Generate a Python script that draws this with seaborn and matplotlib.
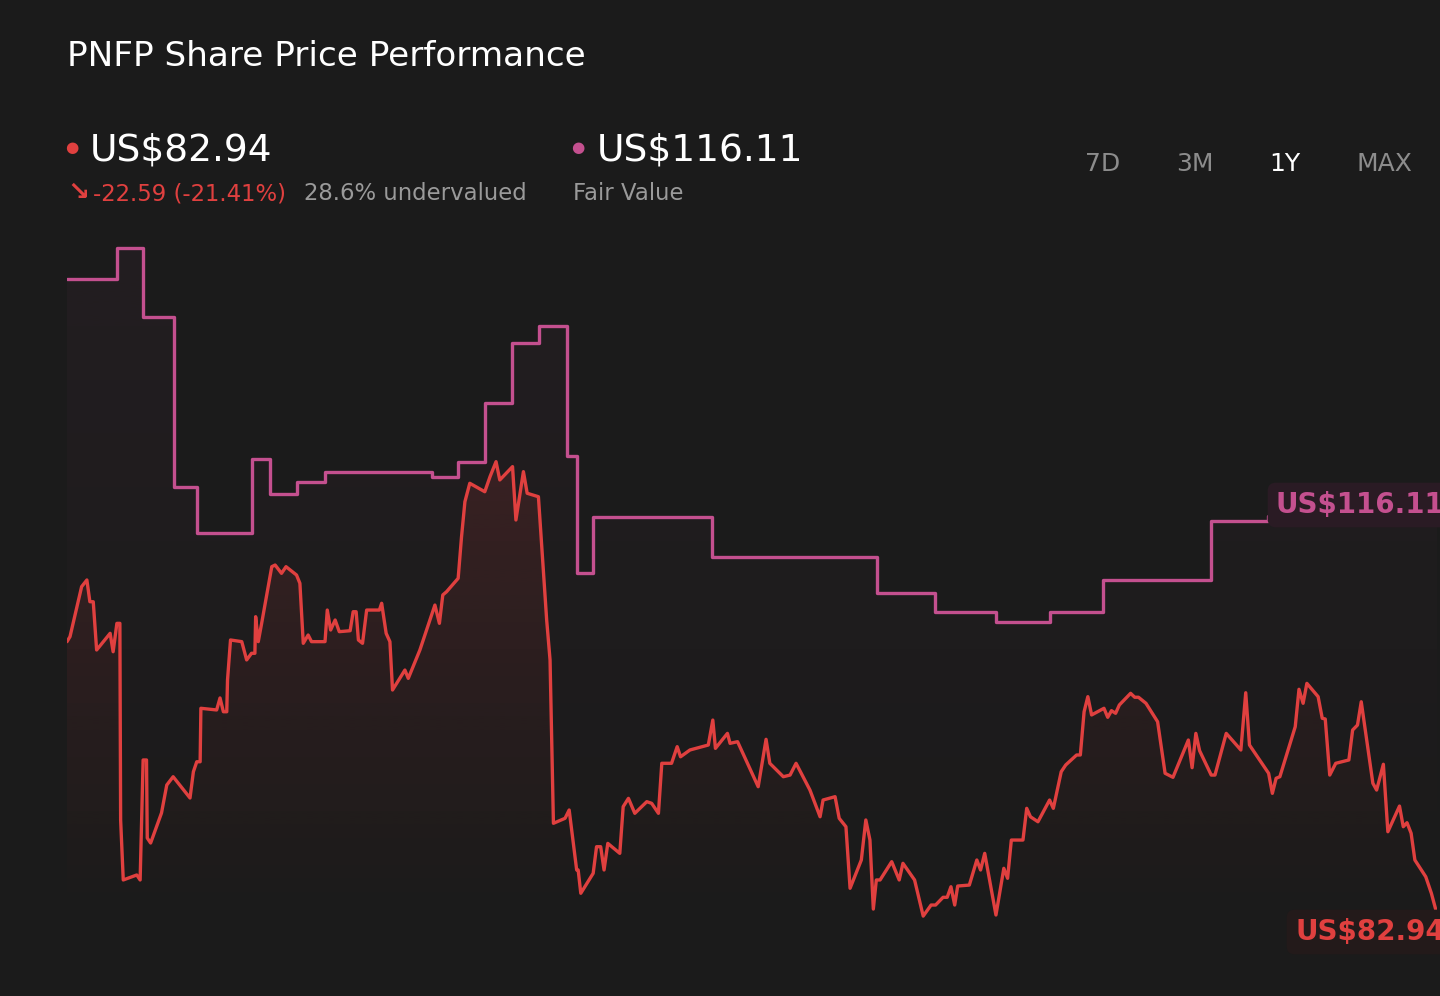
import numpy as np
import seaborn as sns
import matplotlib.pyplot as plt
from matplotlib.colors import to_rgb

# PNFP close over the 1Y window (day offset from start, US$)
price_days = [
    0.0, 0.8, 3.9, 5.3, 6.1, 7.0, 7.9, 11.5, 12.3, 13.3, 14.1, 14.3, 15.0, 18.6, 19.5,
    20.3, 21.2, 21.4, 22.3, 25.2, 26.6, 28.3, 32.8, 33.7, 34.6, 35.5, 35.7, 39.9, 40.8,
    41.7, 42.6, 42.8, 43.6, 46.6, 47.9, 49.2, 50.1, 50.3, 51.0, 51.9, 54.6, 55.5, 57.2,
    58.4, 61.2, 62.1, 63.0, 64.3, 65.2, 68.8, 69.4, 70.3, 71.5, 72.6, 75.5, 76.3, 77.1,
    77.7, 78.8, 79.9, 83.3, 83.9, 85.1, 86.1, 86.8, 90.1, 91.0, 94.1, 98.1, 99.3, 100.2,
    101.2, 104.3, 105.2, 106.1, 107.4, 111.4, 112.8, 114.4, 115.4, 118.8, 119.7, 121.7,
    122.7, 125.7, 127.9, 128.8, 129.7, 132.8, 133.9, 135.9, 136.3, 137.0, 140.3, 141.2,
    142.3, 143.2, 144.2, 147.4, 148.3, 149.7, 151.4, 154.6, 155.9, 157.7, 158.6, 161.2,
    162.7, 163.6, 166.1, 171.0, 172.2, 172.9, 176.1, 176.8, 178.8, 184.3, 186.4, 187.4,
    191.0, 192.8, 194.4, 198.1, 200.8, 201.6, 204.8, 205.9, 207.7, 208.8, 211.8, 213.0,
    214.1, 215.0, 215.8, 216.8, 219.9, 221.9, 222.9, 226.0, 228.3, 230.4, 231.6, 233.6,
    234.7, 235.7, 236.7, 237.5, 240.6, 242.6, 243.6, 244.7, 247.7, 249.8, 250.8, 251.8,
    254.9, 255.9, 256.9, 258.9, 262.0, 263.0, 265.1, 266.3, 269.2, 270.2, 271.2, 272.2,
    273.2, 276.5, 277.5, 278.5, 279.6, 280.6, 283.6, 284.7, 285.7, 287.7, 290.8, 292.8,
    294.9, 299.0, 300.0, 301.0, 302.0, 305.1, 306.1, 309.1, 313.0, 314.3, 315.3, 320.4,
    321.4, 322.4, 323.4, 327.5, 328.5, 329.6, 330.6, 333.6, 334.7, 335.5, 336.7, 338.3,
    341.8, 342.8, 344.1, 345.1, 348.2, 349.2, 351.0, 352.2, 355.3, 356.3, 357.3, 358.4,
    359.4, 362.3, 363.8, 365.0,
]
price_values = [
    105.53, 105.95, 110.16, 110.72, 108.89, 108.89, 104.83, 106.23, 104.68, 107.07, 107.07,
    90.52, 85.47, 85.89, 85.47, 95.57, 95.57, 89.00, 88.58, 91.11, 93.46, 94.16, 92.37,
    94.58, 95.42, 95.42, 99.92, 99.78, 100.79, 99.63, 99.63, 102.30, 105.67, 105.53, 103.99,
    104.55, 104.55, 107.63, 105.53, 107.07, 111.84, 111.98, 111.28, 111.84, 111.14, 110.44,
    105.39, 106.09, 105.53, 105.53, 108.19, 106.51, 107.35, 106.37, 106.45, 108.05, 108.05,
    105.67, 105.39, 108.19, 108.19, 108.76, 106.23, 105.53, 101.46, 103.14, 102.44, 104.83,
    108.61, 107.07, 109.46, 109.73, 110.86, 114.36, 117.31, 118.86, 118.15, 119.42, 120.68,
    119.14, 120.26, 115.77, 119.84, 118.02, 117.73, 107.35, 103.99, 90.24, 90.66, 91.36,
    86.31, 86.31, 84.35, 86.03, 88.27, 88.27, 86.31, 88.55, 87.71, 91.64, 92.34, 91.08,
    92.06, 91.92, 91.08, 95.29, 95.29, 96.69, 95.84, 96.41, 96.83, 98.93, 96.55, 97.81,
    96.97, 97.11, 93.32, 97.31, 95.29, 94.16, 94.30, 95.29, 93.04, 90.79, 92.20, 92.48,
    90.66, 89.95, 84.77, 87.15, 90.52, 88.83, 83.02, 85.47, 85.47, 87.01, 85.47, 86.87,
    85.47, 82.43, 83.36, 83.36, 84.01, 84.01, 84.90, 83.36, 84.96, 85.04, 87.15, 86.31,
    87.71, 82.52, 86.45, 85.61, 88.83, 88.83, 91.50, 90.79, 90.37, 92.20, 91.50, 94.58,
    95.15, 95.99, 95.99, 99.63, 100.90, 99.36, 99.92, 99.16, 99.72, 99.50, 100.20, 101.18,
    100.85, 100.85, 100.34, 98.79, 94.45, 94.11, 97.25, 94.92, 97.81, 96.35, 94.30, 94.30,
    97.81, 96.41, 101.23, 96.83, 94.45, 92.76, 94.03, 94.16, 98.37, 101.52, 100.34, 102.02,
    100.90, 99.08, 99.02, 94.30, 95.29, 95.57, 98.09, 98.51, 100.47, 93.61, 93.04, 95.21,
    89.53, 91.69, 89.95, 90.29, 89.40, 87.15, 85.74, 84.35, 82.94,
]

# fair value estimate, holds from each day until the next change
fair_days = [
    0.0, 13.3, 20.3, 28.5, 34.6, 49.2, 54.1, 61.2, 68.8, 97.2, 104.3, 111.4, 118.6,
    125.8, 133.2, 135.9, 140.2, 171.9, 215.9, 231.4, 247.7, 262.1, 276.2, 305.0, 320.2,
]
fair_values = [
    136.06, 138.69, 132.88, 118.55, 114.70, 120.88, 117.96, 118.99, 119.79, 119.42, 120.68,
    125.62, 130.67, 132.10, 121.16, 111.28, 116.05, 112.63, 109.60, 108.03, 107.18, 108.03,
    110.72, 115.69, 116.11,
]

ticker = "PNFP"
last_price = 82.94
price_change = -22.59
price_change_pct = -21.41
fair_value = 116.11
undervalued_pct = 28.6
ranges = ["7D", "3M", "1Y", "MAX"]
active_range = "1Y"

BG = "#1b1b1b"
RED = "#e0403f"
PINK = "#c4508f"
GREY = "#9a9a9a"

sns.set_theme(style="dark", rc={"axes.facecolor": BG, "figure.facecolor": BG})
plt.rcParams["font.family"] = ["DejaVu Sans"]

fig = plt.figure(figsize=(14.4, 9.96), dpi=100)
ax = fig.add_axes([67 / 1440, 76 / 996, 1370 / 1440, 690 / 996])
x_max = 365.3
y_min, y_max = 82.10, 140.18


def gradient_fill(x, y, color, alpha_top, step=None):
    # transparent area used only as a clip path for a vertical gradient image
    coll = ax.fill_between(x, y, y_min, step=step, facecolor="none", edgecolor="none")
    rgba = np.zeros((256, 1, 4))
    rgba[..., :3] = to_rgb(color)
    rgba[..., 3] = np.linspace(alpha_top, 0, 256)[:, None]
    im = ax.imshow(rgba, extent=[0, x_max, y_min, y_max], aspect="auto",
                   origin="upper", zorder=1, interpolation="bilinear")
    im.set_clip_path(coll.get_paths()[0], transform=ax.transData)


fair_x = np.append(fair_days, x_max)
fair_y = np.append(fair_values, fair_values[-1])

gradient_fill(fair_x, fair_y, PINK, 0.05, step="post")
gradient_fill(price_days, price_values, RED, 0.2)

sns.lineplot(x=fair_x, y=fair_y, ax=ax, color=PINK, lw=2.4, drawstyle="steps-post",
             estimator=None, sort=False, zorder=3)
sns.lineplot(x=price_days, y=price_values, ax=ax, color=RED, lw=2.4,
             estimator=None, sort=False, zorder=4)

ax.set_xlim(0, x_max)
ax.set_ylim(y_min, y_max)
ax.axis("off")


def fx(px):
    return px / 1440


def fy(py):
    return 1 - py / 996


# header
fig.text(fx(67), fy(66), f"{ticker} Share Price Performance", color="white",
         fontsize=24.7, va="baseline")

fig.text(fx(72), fy(148), "●", color=RED, fontsize=11, ha="center", va="center")
fig.text(fx(90), fy(160), f"US${last_price:.2f}", color="white", fontsize=27, va="baseline")
fig.text(fx(78), fy(193), "↘", color=RED, fontsize=19, fontweight="bold",
         ha="center", va="center")
fig.text(fx(93), fy(200), f"{price_change:.2f} ({price_change_pct:.2f}%)", color=RED,
         fontsize=16.4, va="baseline")
fig.text(fx(304), fy(200), f"{undervalued_pct}% undervalued", color=GREY,
         fontsize=16.4, va="baseline")

fig.text(fx(578), fy(148), "●", color=PINK, fontsize=11, ha="center", va="center")
fig.text(fx(597), fy(160), f"US${fair_value:.2f}", color="white", fontsize=27, va="baseline")
fig.text(fx(573), fy(200), "Fair Value", color=GREY, fontsize=16.4, va="baseline")

for label, cx in zip(ranges, [1103, 1195, 1285, 1384]):
    fig.text(fx(cx), fy(171), label, ha="center", va="baseline", fontsize=18,
             color="white" if label == active_range else "#8c8c8c")

# end-of-line value tags (run off the right edge, as in the source)
fig.text(fx(1276), fy(513), f"US${fair_value:.2f}", color=PINK, fontsize=20,
         fontweight="bold", va="baseline",
         bbox=dict(boxstyle="round,pad=0.3", fc="#2a1b24", ec="none"))
fig.text(fx(1295), fy(940), f"US${last_price:.2f}", color=RED, fontsize=20,
         fontweight="bold", va="baseline",
         bbox=dict(boxstyle="round,pad=0.3", fc="#231a1a", ec="none"))

fig.savefig("out.png", dpi=100, facecolor=BG)
